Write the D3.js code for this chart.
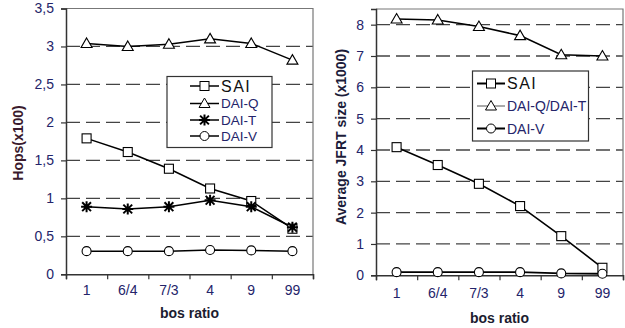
<!DOCTYPE html>
<html><head><meta charset="utf-8">
<script src="https://cdn.jsdelivr.net/npm/d3@7"></script>
<style>
html,body{margin:0;padding:0;background:#fff;}
svg{display:block;font-family:"Liberation Sans",Arial,sans-serif;}
</style></head>
<body>
<svg id="c" width="625" height="328"></svg>
<script>
const categories = ["1","6/4","7/3","4","9","99"];

// Left chart: Hops (x100)
const leftTicks = [0,0.5,1,1.5,2,2.5,3,3.5];
const hopsSAI  = [1.79,1.61,1.39,1.13,0.965,0.60];
const hopsDAIQ = [3.04,3.00,3.03,3.10,3.04,2.82];
const hopsDAIT = [0.89,0.86,0.89,0.975,0.89,0.62];
const hopsDAIV = [0.305,0.305,0.305,0.32,0.315,0.305];

// Right chart: Average JFRT size (x1000)
const rightTicks = [0,1,2,3,4,5,6,7,8];
const jfrtSAI  = [4.09,3.52,2.92,2.21,1.25,0.24];
const jfrtDAIQT = [8.18,8.15,7.94,7.65,7.04,7.00];
const jfrtDAIV = [0.10,0.10,0.10,0.10,0.06,0.05];

const tickColor = "#24246a";
const svg = d3.select("#c");

function marker(g, type, x, y, opts={}) {
  const sw = opts.sw || 1.1;
  if (type === "square") {
    g.append("rect").attr("x", x-4.5).attr("y", y-4.5).attr("width", 9).attr("height", 9)
      .attr("fill", "#fff").attr("stroke", "#000").attr("stroke-width", sw);
  } else if (type === "triangle") {
    g.append("path").attr("d", `M${x},${y-5.5}L${x+5.5},${y+4}L${x-5.5},${y+4}Z`)
      .attr("fill", "#fff").attr("stroke", "#000").attr("stroke-width", sw);
  } else if (type === "circle") {
    g.append("circle").attr("cx", x).attr("cy", y).attr("r", 4.5)
      .attr("fill", "#fff").attr("stroke", "#000").attr("stroke-width", sw);
  } else if (type === "star") {
    const r = 5.5;
    g.append("path").attr("d",
      `M${x},${y-r}L${x},${y+r}M${x-r},${y}L${x+r},${y}M${x-r*0.8},${y-r*0.8}L${x+r*0.8},${y+r*0.8}M${x-r*0.8},${y+r*0.8}L${x+r*0.8},${y-r*0.8}`)
      .attr("fill", "none").attr("stroke", "#000").attr("stroke-width", 2);
  }
}

function chart(cfg) {
  const x = d3.scaleBand().domain(categories).range([cfg.x0, cfg.x1]).padding(0);
  const xi = d3.scaleLinear().domain([0, categories.length]).range([cfg.x0, cfg.x1]);
  const y = d3.scaleLinear().domain([0, cfg.ymax]).range([cfg.yb, cfg.yt]);
  const g = svg.append("g");

  // gridlines
  g.append("g").selectAll("line").data(cfg.ticks.filter(t => t > 0 && t < cfg.ymax))
    .join("line")
    .attr("x1", cfg.x0).attr("x2", cfg.x1)
    .attr("y1", d => y(d)).attr("y2", d => y(d))
    .attr("stroke", "#444").attr("stroke-width", 1.3).attr("stroke-dasharray", "14,6");

  // frame
  g.append("path").attr("d", `M${cfg.x0},${y(cfg.ymax)}H${cfg.x1}V${cfg.yb}`)
    .attr("fill", "none").attr("stroke", "#777").attr("stroke-width", 1.2);

  // y axis
  const ya = g.append("g").attr("transform", `translate(${cfg.x0},0)`)
    .call(d3.axisLeft(y).tickValues(cfg.ticks).tickSize(5).tickPadding(7)
      .tickFormat(d => String(d).replace(".", ",")));
  ya.select(".domain").attr("stroke", "#333").attr("stroke-width", 1.5);
  ya.selectAll(".tick line").attr("stroke", "#333").attr("stroke-width", 1.2);
  ya.selectAll("text").attr("fill", tickColor).attr("font-size", 14)
    .attr("font-family", "Liberation Sans, Arial, sans-serif");

  // x axis: ticks at band boundaries
  const xa = g.append("g").attr("transform", `translate(0,${cfg.yb})`)
    .call(d3.axisBottom(xi).tickValues(d3.range(0, categories.length + 1)).tickSize(5).tickFormat(""));
  xa.select(".domain").attr("stroke", "#333").attr("stroke-width", 1.5);
  xa.selectAll(".tick line").attr("stroke", "#333").attr("stroke-width", 1.2);
  const xl = g.append("g").attr("transform", `translate(0,${cfg.yb})`)
    .call(d3.axisBottom(x).tickSize(0).tickPadding(cfg.xpad));
  xl.select(".domain").remove();
  xl.selectAll("text").attr("fill", tickColor).attr("font-size", 14)
    .attr("font-family", "Liberation Sans, Arial, sans-serif");

  // series
  const line = d3.line().x((d, i) => x(categories[i]) + x.bandwidth() / 2).y(d => y(d));
  cfg.series.forEach(s => {
    g.append("path").attr("d", line(s.values)).attr("fill", "none")
      .attr("stroke", "#000").attr("stroke-width", s.lw || 1.5);
  });
  cfg.series.forEach(s => {
    s.values.forEach((v, i) => marker(g, s.marker, x(categories[i]) + x.bandwidth() / 2, y(v)));
  });

  // axis titles
  g.append("text").attr("x", (cfg.x0 + cfg.x1) / 2).attr("y", cfg.xtY)
    .attr("text-anchor", "middle").attr("font-weight", "bold").attr("font-size", 14)
    .attr("fill", "#1c1c30").text("bos ratio");
  g.append("text").attr("transform", `translate(${cfg.ytX},${cfg.ytY}) rotate(-90)`)
    .attr("text-anchor", "middle").attr("font-weight", "bold").attr("font-size", 14)
    .attr("fill", cfg.ytColor).text(cfg.ytitle);

  // legend
  const L = cfg.legend;
  g.append("rect").attr("x", L.x).attr("y", L.y).attr("width", L.w).attr("height", L.h)
    .attr("fill", "#fff").attr("stroke", "#333").attr("stroke-width", 1.2);
  L.items.forEach(it => {
    g.append("line").attr("x1", L.lx0).attr("x2", L.lx1).attr("y1", it.y).attr("y2", it.y)
      .attr("stroke", it.lc || "#000").attr("stroke-width", it.lw || 1.5);
    marker(g, it.marker, (L.lx0 + L.lx1) / 2, it.y, {sw: 1});
    g.append("text").attr("x", L.tx).attr("y", it.y).attr("dy", "0.36em")
      .attr("font-size", it.fs).attr("letter-spacing", it.ls || 0)
      .attr("fill", it.color).text(it.label);
  });
}

chart({
  x0: 66, x1: 313, yt: 8.5, yb: 274.3, ymax: 3.5, ticks: leftTicks, xpad: 11,
  xtY: 318, ytX: 23, ytY: 143, ytitle: "Hops(x100)", ytColor: "#3a1a2c",
  series: [
    {values: hopsDAIQ, marker: "triangle"},
    {values: hopsSAI, marker: "square"},
    {values: hopsDAIT, marker: "star", lw: 1.6},
    {values: hopsDAIV, marker: "circle"}
  ],
  legend: {x: 167, y: 76.5, w: 105, h: 71, lx0: 190, lx1: 219, tx: 221,
    items: [
      {y: 86, label: "SAI", marker: "square", fs: 16, ls: 1.5, color: "#111"},
      {y: 103.5, label: "DAI-Q", marker: "triangle", fs: 13.5, color: tickColor},
      {y: 120, label: "DAI-T", marker: "star", fs: 13.5, color: tickColor},
      {y: 136, label: "DAI-V", marker: "circle", fs: 13.5, color: tickColor}
    ]}
});

chart({
  x0: 376, x1: 623, yt: 9, yb: 275.3, ymax: 8.5, ticks: rightTicks, xpad: 13,
  xtY: 323, ytX: 346, ytY: 137, ytitle: "Average JFRT size (x1000)", ytColor: "#1c1c3a",
  series: [
    {values: jfrtDAIQT, marker: "triangle", lw: 1.6},
    {values: jfrtSAI, marker: "square", lw: 1.6},
    {values: jfrtDAIV, marker: "circle", lw: 1.8}
  ],
  legend: {x: 472.5, y: 71, w: 116, h: 70, lx0: 477, lx1: 505, tx: 507,
    items: [
      {y: 83.5, label: "SAI", marker: "square", fs: 16, ls: 1.5, color: "#111", lw: 2},
      {y: 106, label: "DAI-Q/DAI-T", marker: "triangle", fs: 14, color: tickColor, lw: 1, lc: "#555"},
      {y: 128.5, label: "DAI-V", marker: "circle", fs: 14, color: tickColor, lw: 2}
    ]}
});
</script>
</body></html>
